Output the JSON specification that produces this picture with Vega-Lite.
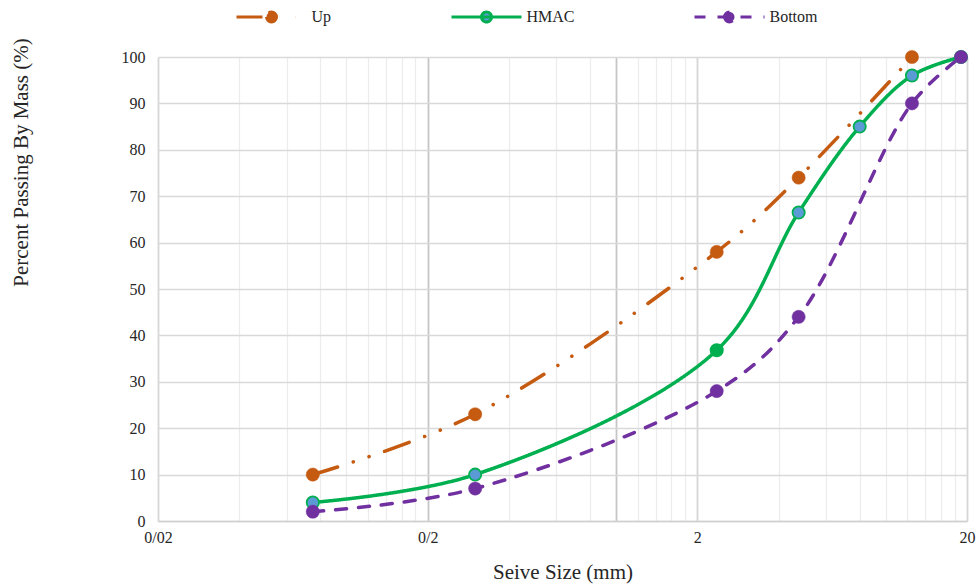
{
  "$schema": "https://vega.github.io/schema/vega-lite/v6.json",
  "width": 809,
  "height": 464,
  "autosize": {"type": "none"},
  "padding": {"left": 158, "top": 57, "right": 11, "bottom": 63},
  "background": "white",
  "config": {
    "view": {"stroke": null},
    "font": "Liberation Serif",
    "axis": {"labelFont": "Liberation Serif", "titleFont": "Liberation Serif", "labelColor": "#262626", "titleColor": "#262626", "titleFontWeight": "normal"},
    "legend": {"labelFont": "Liberation Serif"}
  },
  "data": {
    "values": [
      {"series": "Up", "size": 0.075, "pass": 10},
      {"series": "Up", "size": 0.3, "pass": 23},
      {"series": "Up", "size": 2.36, "pass": 58},
      {"series": "Up", "size": 4.75, "pass": 74},
      {"series": "Up", "size": 12.5, "pass": 100},
      {"series": "HMAC", "size": 0.075, "pass": 4},
      {"series": "HMAC", "size": 0.3, "pass": 10},
      {"series": "HMAC", "size": 2.36, "pass": 36.8},
      {"series": "HMAC", "size": 4.75, "pass": 66.5},
      {"series": "HMAC", "size": 8, "pass": 85},
      {"series": "HMAC", "size": 12.5, "pass": 96},
      {"series": "HMAC", "size": 19, "pass": 100},
      {"series": "Bottom", "size": 0.075, "pass": 2},
      {"series": "Bottom", "size": 0.3, "pass": 7},
      {"series": "Bottom", "size": 2.36, "pass": 28},
      {"series": "Bottom", "size": 4.75, "pass": 44},
      {"series": "Bottom", "size": 12.5, "pass": 90},
      {"series": "Bottom", "size": 19, "pass": 100}
    ]
  },
  "encoding": {
    "x": {
      "field": "size",
      "type": "quantitative",
      "scale": {"type": "log", "domain": [0.02, 20], "nice": false},
      "axis": {
        "title": "Seive Size (mm)",
        "titleFont": "Liberation Serif",
        "titleFontSize": 21,
        "titleY": 51,
        "titleBaseline": "middle",
        "labelFont": "Liberation Serif",
        "labelFontSize": 16,
        "labelPadding": 8,
        "ticks": false,
        "tickSize": 0,
        "domainColor": "#cfcfcf",
        "domainWidth": 1.5,
        "values": [0.02, 0.04, 0.06, 0.08, 0.1, 0.12, 0.14, 0.16, 0.18, 0.2, 0.4, 0.6, 0.8, 1, 1.2, 1.4, 1.6, 1.8, 2, 4, 6, 8, 10, 12, 14, 16, 18, 20],
        "labelExpr": "datum.value === 0.02 ? '0/02' : datum.value === 0.2 ? '0/2' : datum.value === 2 ? '2' : datum.value === 20 ? '20' : ''",
        "labelOverlap": false,
        "labelBound": false,
        "labelFlush": false,
        "grid": true,
        "gridColor": {"condition": [
          {"test": "datum.value === 1 || datum.value === 0.2", "value": "#c6c6c6"},
          {"test": "datum.value === 2 || datum.value === 0.02 || datum.value === 20", "value": "#d6d6d6"}
        ], "value": "#ececec"},
        "gridWidth": {"condition": {"test": "datum.value === 1 || datum.value === 0.2 || datum.value === 2 || datum.value === 0.02 || datum.value === 20", "value": 1.8}, "value": 1.2}
      }
    },
    "y": {
      "field": "pass",
      "type": "quantitative",
      "scale": {"domain": [0, 100], "nice": false},
      "axis": {
        "title": "Percent Passing By Mass (%)",
        "titleFont": "Liberation Serif",
        "titleFontSize": 21,
        "titleAngle": -90,
        "titleX": -137,
        "titleY": 105,
        "titleAlign": "center",
        "titleBaseline": "middle",
        "labelFont": "Liberation Serif",
        "labelFontSize": 16,
        "labelPadding": 13,
        "ticks": false,
        "tickSize": 0,
        "domain": false,
        "values": [0, 10, 20, 30, 40, 50, 60, 70, 80, 90, 100],
        "gridColor": "#d9d9d9",
        "gridWidth": 1.3
      }
    }
  },
  "layer": [
    {
      "mark": {"type": "line", "interpolate": "catmull-rom", "strokeWidth": 3.5, "strokeCap": "round"},
      "encoding": {
        "color": {
          "field": "series",
          "type": "nominal",
          "scale": {"domain": ["Up", "HMAC", "Bottom"], "range": ["#C55A11", "#00B050", "#7030A0"]},
          "legend": {
            "title": null,
            "orient": "none",
            "direction": "horizontal",
            "columns": 3,
            "legendX": 77,
            "legendY": -48,
            "padding": 0,
            "columnPadding": 113,
            "symbolType": "M-7,0L7,0M-1,0A1,1,0,1,0,1,0A1,1,0,1,0,-1,0Z",
            "symbolSize": 100,
            "symbolStrokeWidth": 3,
            "symbolOffset": 28.5,
            "labelOffset": 32,
            "labelFont": "Liberation Serif",
            "labelFontSize": 16,
            "labelColor": "#262626",
            "encode": {"symbols": {"update": {"fill": {"scale": "fill", "field": "value"}, "fillOpacity": {"value": 1}}}}
          }
        },
        "strokeDash": {
          "field": "series",
          "type": "nominal",
          "scale": {"domain": ["Up", "HMAC", "Bottom"], "range": [[26, 16.5, 0.1, 16.5, 0.1, 16.5], [1, 0], [11, 12]]},
          "legend": {
            "title": null,
            "orient": "none",
            "direction": "horizontal",
            "columns": 3,
            "legendX": 77,
            "legendY": -48,
            "padding": 0,
            "columnPadding": 113,
            "symbolType": "M-7,0L7,0M-1,0A1,1,0,1,0,1,0A1,1,0,1,0,-1,0Z",
            "symbolSize": 100,
            "symbolStrokeWidth": 3,
            "symbolOffset": 28.5,
            "labelOffset": 32,
            "labelFont": "Liberation Serif",
            "labelFontSize": 16,
            "labelColor": "#262626",
            "encode": {"symbols": {"update": {"fill": {"scale": "fill", "field": "value"}, "fillOpacity": {"value": 1}}}}
          }
        }
      }
    },
    {
      "mark": {"type": "point", "filled": true, "opacity": 1, "shape": "circle"},
      "encoding": {
        "fill": {
          "condition": {"test": "datum.series === 'HMAC' && datum.size === 2.36", "value": "#00B050"},
          "field": "series",
          "type": "nominal",
          "scale": {"domain": ["Up", "HMAC", "Bottom"], "range": ["#C55A11", "#5B9BD5", "#7030A0"]},
          "legend": null
        },
        "stroke": {
          "field": "series",
          "type": "nominal",
          "scale": {"domain": ["Up", "HMAC", "Bottom"], "range": ["#C55A11", "#00B050", "#7030A0"]},
          "legend": null
        },
        "strokeWidth": {"condition": {"test": "datum.series === 'HMAC'", "value": 1.8}, "value": 0.5},
        "size": {"condition": {"test": "datum.series === 'HMAC'", "value": 150}, "value": 175}
      }
    }
  ]
}
